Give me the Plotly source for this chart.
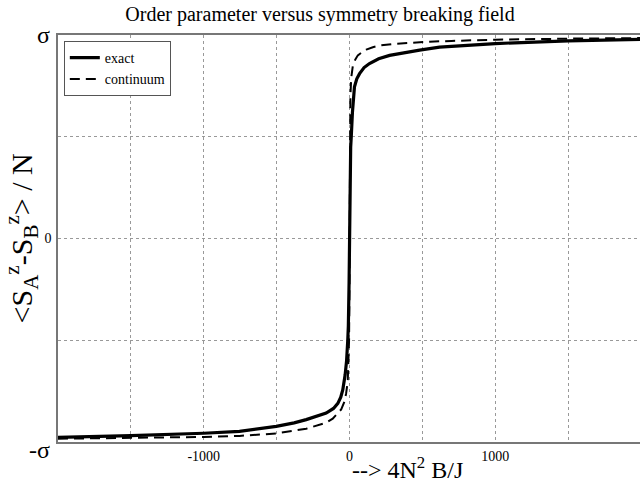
import plotly.graph_objects as go

# Data
exact_x = [-2000, -1500, -1000, -755, -503, -380, -297, -200, -160, -110, -80, -60, -46, -30, -20, -12, -8, -3, 0,
           3, 8, 12, 20, 34, 50, 69, 100, 137, 200, 275, 380, 481, 618, 800, 1000, 1500, 2000]
exact_y = [-0.977, -0.969, -0.957, -0.948, -0.923, -0.906, -0.89, -0.87, -0.858, -0.835, -0.81, -0.78, -0.743, -0.67, -0.6, -0.5, -0.43, -0.22, 0.0,
           0.25, 0.45, 0.5, 0.62, 0.745, 0.785, 0.81, 0.84, 0.86, 0.883, 0.90, 0.915, 0.926, 0.94, 0.95, 0.958, 0.971, 0.979]

cont_x = [-2000, -1500, -1000, -755, -503, -297, -160, -115, -80, -57, -34, -23, -12, -6, -3, -1, 0,
          1, 3, 6, 12, 23, 40, 57, 80, 115, 160, 206, 300, 412, 550, 700, 1000, 1500, 2000]
cont_y = [-0.984, -0.98, -0.975, -0.97, -0.958, -0.935, -0.905, -0.885, -0.86, -0.84, -0.8, -0.76, -0.7, -0.6, -0.5, -0.3, 0.0,
          0.3, 0.55, 0.7, 0.79, 0.85, 0.88, 0.90, 0.912, 0.928, 0.94, 0.948, 0.956, 0.962, 0.967, 0.971, 0.977, 0.982, 0.985]

x_tickvals = [-1500, -1000, -500, 0, 500, 1000, 1500]
x_ticktext = ["", "-1000", "", "0", "", "1000", ""]
y_tickvals = [-1, -0.5, 0, 0.5, 1]
y_ticktext = ["", "", "0", "", ""]

SERIF = "Liberation Serif"

fig = go.Figure()
fig.add_trace(go.Scatter(x=exact_x, y=exact_y, mode="lines", name="exact",
                         line=dict(color="black", width=3.2)))
fig.add_trace(go.Scatter(x=cont_x, y=cont_y, mode="lines", name="continuum",
                         line=dict(color="black", width=2, dash="10px,6px")))

fig.update_layout(
    width=640, height=487,
    margin=dict(l=58, r=0, t=35, b=45),
    paper_bgcolor="white", plot_bgcolor="white",
    font=dict(family=SERIF, color="black"),
    title=dict(text="Order parameter versus symmetry breaking field",
               x=0.5, xanchor="center", y=0.972, yanchor="middle",
               font=dict(family=SERIF, size=20, color="black")),
    showlegend=True,
    legend=dict(x=0.01, y=0.985, xanchor="left", yanchor="top",
                bgcolor="white", bordercolor="#555", borderwidth=1,
                font=dict(family=SERIF, size=14, color="black"),
                tracegroupgap=0, itemwidth=30),
    xaxis=dict(range=[-2000, 1993], tickvals=x_tickvals, ticktext=x_ticktext,
               showgrid=True, gridcolor="#999", griddash="dot", gridwidth=1,
               zeroline=False, showline=True, linecolor="#777", linewidth=1.5,
               mirror=True, ticks="", tickfont=dict(family=SERIF, size=14, color="black"),
               ticklabelstandoff=0, automargin=False),
    yaxis=dict(range=[-1, 1], tickvals=y_tickvals, ticktext=y_ticktext,
               showgrid=True, gridcolor="#999", griddash="dot", gridwidth=1,
               zeroline=False, showline=True, linecolor="#777", linewidth=1.5,
               mirror=False, ticks="", tickfont=dict(family=SERIF, size=14, color="black"),
               ticklabelstandoff=2, automargin=False),
)

fig.add_annotation(text="σ", xref="paper", yref="paper", x=-0.01, y=1.0,
                   xanchor="right", yanchor="middle", showarrow=False,
                   font=dict(family=SERIF, size=24, color="black"))
fig.add_annotation(text="-σ", xref="paper", yref="paper", x=-0.01, y=-0.02,
                   xanchor="right", yanchor="middle", showarrow=False,
                   font=dict(family=SERIF, size=24, color="black"))
fig.add_annotation(text="&lt;S<sub>A</sub><sup>z</sup>-S<sub>B</sub><sup>z</sup>&gt; / N",
                   xref="paper", yref="paper", x=-0.062, y=0.5, textangle=-90,
                   xanchor="center", yanchor="middle", showarrow=False,
                   font=dict(family=SERIF, size=30, color="black"))
fig.add_annotation(text="--&gt; 4N<sup>2</sup> B/J", xref="x", yref="paper",
                   x=0, y=-0.022, xanchor="left", yanchor="top", showarrow=False,
                   font=dict(family=SERIF, size=24, color="black"))

fig.write_html("out.html", config={"displayModeBar": False},
               post_script="document.body.style.margin='0px';document.body.style.overflow='hidden';")
